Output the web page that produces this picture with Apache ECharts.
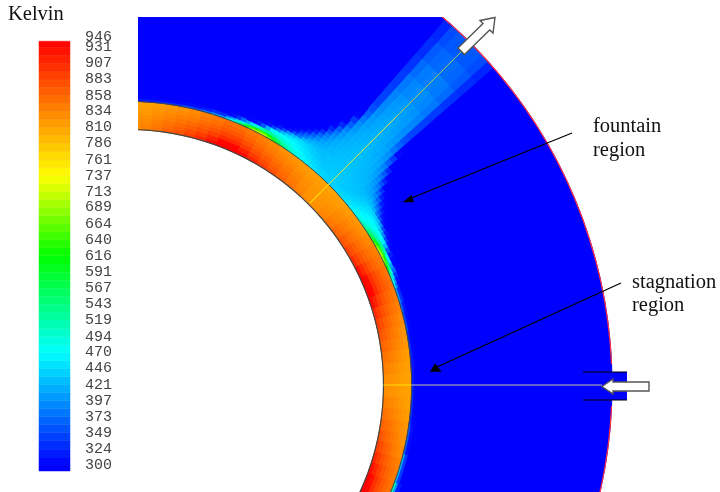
<!DOCTYPE html>
<html>
<head>
<meta charset="utf-8">
<style>
  html, body { margin: 0; padding: 0; background: #fff; }
  #chart { width: 720px; height: 492px; }
</style>
<script src="https://cdn.jsdelivr.net/npm/echarts@6/dist/echarts.min.js"></script>
</head>
<body>
<div id="chart"></div>
<script>
// colour bar labels (Kelvin)
const tickLabels = [300, 324, 349, 373, 397, 421, 446, 470, 494, 519, 543, 567, 591, 616, 640, 664, 689, 713, 737, 761, 786, 810, 834, 858, 883, 907, 931]
const topLabel = [946]
const barBottom = 291
const barTop = 940
const colorStops = [[300, [0, 0, 255]], [470, [0, 255, 255]], [616, [0, 255, 0]], [737, [255, 255, 0]], [940, [255, 0, 0]]]

// tube wall, temperature
const rSolid = [255.5, 259.5, 263.5, 267.5, 271.5, 275.5, 279.5, 283.7]
const thetaSolid = [-27.5, -25, -22.5, -20, -17.5, -15, -12.5, -10, -7.5, -5, -2.5, 0, 2.5, 5, 7.5, 10, 12.5, 15, 17.5, 20, 22.5, 25, 27.5, 30, 32.5, 35, 37.5, 40, 42.5, 45, 47.5, 50, 52.5, 55, 57.5, 60, 62.5, 65, 67.5, 70, 72.5, 75, 77.5, 80, 82.5, 85, 87.5, 90]
const solidTemps = [
  [932, 912, 890, 874, 862, 852, 844],
  [946, 935, 905, 885, 870, 860, 850],
  [946, 930, 902, 884, 870, 858, 850],
  [930, 910, 890, 874, 862, 852, 844],
  [908, 892, 876, 864, 853, 845, 838],
  [890, 878, 865, 855, 844, 836, 830],
  [875, 866, 856, 847, 838, 831, 824],
  [862, 855, 848, 840, 832, 826, 820],
  [850, 845, 838, 832, 826, 820, 816],
  [838, 834, 830, 825, 820, 816, 813],
  [828, 825, 822, 820, 816, 813, 811],
  [828, 825, 822, 820, 816, 813, 811],
  [838, 834, 830, 825, 820, 816, 813],
  [850, 845, 838, 832, 826, 820, 816],
  [862, 855, 848, 840, 832, 826, 820],
  [875, 866, 856, 847, 838, 831, 824],
  [890, 878, 865, 855, 844, 836, 830],
  [908, 892, 876, 864, 853, 845, 838],
  [932, 912, 890, 874, 862, 852, 844],
  [946, 935, 905, 885, 870, 860, 850],
  [946, 932, 902, 884, 870, 858, 850],
  [930, 910, 888, 872, 860, 850, 844],
  [905, 890, 874, 862, 852, 844, 838],
  [888, 876, 864, 854, 844, 836, 830],
  [872, 864, 855, 846, 838, 830, 824],
  [860, 853, 846, 838, 832, 825, 820],
  [848, 842, 836, 830, 826, 820, 816],
  [836, 832, 828, 824, 820, 816, 814],
  [826, 824, 822, 820, 818, 815, 812],
  [826, 824, 822, 820, 818, 815, 812],
  [838, 834, 830, 826, 822, 818, 814],
  [850, 845, 840, 834, 828, 822, 818],
  [864, 857, 850, 842, 834, 828, 822],
  [878, 868, 858, 849, 840, 833, 826],
  [894, 880, 868, 857, 846, 838, 832],
  [912, 895, 878, 866, 855, 846, 840],
  [935, 915, 892, 876, 864, 854, 846],
  [946, 938, 908, 888, 872, 862, 852],
  [946, 935, 905, 886, 872, 860, 852],
  [932, 912, 890, 874, 862, 852, 846],
  [908, 892, 876, 864, 853, 845, 838],
  [890, 878, 865, 855, 844, 836, 830],
  [875, 866, 856, 847, 838, 831, 824],
  [862, 855, 848, 840, 832, 826, 820],
  [848, 844, 838, 832, 826, 820, 816],
  [838, 834, 830, 825, 820, 816, 813],
  [828, 825, 822, 820, 816, 813, 811]
]

// air side, each row is one theta step, cells past the end of a row stay at 300
const rFluid = [283.7, 286, 288, 291, 295, 298, 301, 304, 307, 310, 314, 318, 322, 326, 330, 335, 340, 346, 352, 359, 366, 374, 382, 391, 400, 420, 440, 462, 484]
const thetaFluid = [-28, -20, -14, -8, 0, 6, 11, 15, 17, 20, 21, 22, 23, 24, 25, 26, 27, 28, 29, 30, 31, 32, 33, 34, 35, 36, 37, 38, 39, 40, 41, 42, 43, 44, 45, 46, 47, 48, 49, 50, 51, 52, 53, 54, 55, 56, 57, 58, 59, 60, 61, 62, 63, 64, 65, 66, 67, 68, 69, 70, 73, 75, 79, 84, 90]
const fluidTemps = [
  [520, 400, 320],
  [420, 340],
  [360, 310],
  [330, 303],
  [315],
  [330, 303],
  [350, 308],
  [370, 315],
  [400, 330],
  [450, 380, 302],
  [480, 410, 310],
  [520, 445, 335],
  [570, 490, 370],
  [620, 540, 410, 302],
  [665, 585, 450, 305],
  [695, 620, 490, 320],
  [710, 640, 520, 360, 302],
  [700, 635, 535, 420, 312],
  [670, 610, 530, 460, 345, 303],
  [630, 580, 520, 475, 390, 315],
  [590, 552, 508, 478, 425, 350, 302],
  [555, 530, 498, 475, 445, 400, 315, 301],
  [530, 512, 488, 472, 455, 425, 354, 312, 301],
  [510, 498, 480, 468, 458, 440, 380, 353, 320, 302],
  [495, 486, 472, 463, 455, 445, 420, 384, 359, 320, 301],
  [482, 475, 466, 458, 450, 444, 428, 412, 388, 362, 322, 301],
  [472, 467, 460, 453, 445, 440, 432, 422, 410, 392, 368, 332, 302],
  [465, 460, 454, 448, 440, 436, 430, 425, 415, 409, 396, 381, 354, 325, 302],
  [458, 454, 449, 442, 436, 432, 428, 425, 422, 416, 410, 403, 393, 380, 359, 327, 302],
  [452, 449, 445, 438, 432, 430, 429, 427, 425, 423, 420, 416, 410, 405, 398, 386, 363, 340, 306, 301],
  [448, 445, 442, 436, 433, 432, 431, 429, 427, 425, 423, 421, 420, 417, 413, 408, 401, 394, 380, 367, 352, 344, 343, 341, 338, 334, 329, 324],
  [445, 443, 441, 435, 435, 433, 432, 431, 429, 428, 426, 425, 423, 421, 420, 417, 414, 411, 406, 401, 396, 392, 390, 387, 380, 371, 360, 350],
  [442, 441, 440, 437, 436, 435, 434, 432, 431, 430, 429, 427, 426, 424, 423, 421, 418, 416, 413, 411, 408, 405, 402, 398, 390, 381, 368, 357],
  [440, 440, 440, 438, 436, 435, 434, 433, 432, 431, 430, 429, 428, 427, 426, 424, 422, 420, 418, 415, 412, 409, 406, 402, 394, 384, 371, 359],
  [440, 440, 440, 438, 436, 435, 434, 433, 432, 431, 430, 429, 428, 427, 426, 424, 422, 420, 418, 415, 412, 409, 406, 402, 394, 384, 371, 359],
  [442, 441, 440, 437, 436, 435, 434, 432, 431, 430, 429, 427, 426, 424, 423, 421, 418, 416, 413, 411, 408, 405, 402, 398, 390, 381, 368, 357],
  [445, 443, 441, 435, 435, 433, 432, 431, 429, 428, 426, 425, 423, 421, 420, 417, 414, 411, 406, 401, 396, 392, 390, 387, 380, 371, 360, 350],
  [448, 445, 442, 436, 433, 432, 431, 429, 427, 425, 423, 421, 420, 417, 413, 408, 401, 394, 380, 367, 352, 344, 343, 341, 338, 334, 329, 324],
  [452, 449, 445, 438, 432, 430, 429, 427, 425, 423, 420, 416, 410, 405, 398, 386, 363, 340, 306, 301],
  [458, 454, 449, 442, 436, 432, 428, 425, 422, 416, 410, 403, 393, 380, 359, 327, 302],
  [465, 460, 454, 448, 440, 436, 430, 425, 415, 409, 396, 381, 354, 325, 302],
  [472, 467, 460, 453, 445, 440, 432, 422, 410, 392, 368, 332, 302],
  [482, 475, 466, 458, 450, 444, 428, 412, 388, 362, 322, 301],
  [495, 486, 472, 463, 455, 445, 420, 384, 359, 320, 301],
  [510, 498, 480, 468, 458, 440, 380, 353, 320, 302],
  [530, 512, 488, 472, 455, 425, 354, 312, 301],
  [555, 530, 498, 475, 445, 400, 315, 301],
  [590, 552, 508, 478, 425, 350, 302],
  [630, 580, 520, 475, 390, 315],
  [670, 610, 530, 460, 345, 303],
  [700, 635, 535, 420, 312],
  [710, 640, 520, 360, 302],
  [695, 620, 490, 320],
  [665, 585, 450, 305],
  [620, 540, 410, 302],
  [570, 490, 370],
  [520, 445, 335],
  [480, 410, 310],
  [450, 380, 302],
  [400, 330],
  [370, 315],
  [350, 308],
  [330, 303],
  [315]
]

// 温度转颜色
function tempColor (v) {
  let i = 0
  while (i < colorStops.length - 2 && v > colorStops[i + 1][0]) i++
  const a = colorStops[i]
  const b = colorStops[i + 1]
  const t = Math.min(1, Math.max(0, (v - a[0]) / (b[0] - a[0])))
  const c = a[1].map((x, k) => Math.round(x + (b[1][k] - x) * t))
  return 'rgb(' + c.join(',') + ')'
}

// one row per cell: theta0, theta1, r0, r1, temp
// the free stream goes down first as one piece, so no seams show in it
const cells = [[thetaFluid[0], thetaFluid[thetaFluid.length - 1], rFluid[0], rFluid[rFluid.length - 1], 300]]
solidTemps.forEach((row, i) => {
  row.forEach((v, j) => cells.push([thetaSolid[i], thetaSolid[i + 1], rSolid[j], rSolid[j + 1], v]))
})
fluidTemps.forEach((row, i) => {
  row.forEach((v, j) => cells.push([thetaFluid[i], thetaFluid[i + 1], rFluid[j], rFluid[j + 1], v]))
})

// bar bands, two per label
const bands = []
tickLabels.forEach((v, i) => {
  const lo = i ? (tickLabels[i - 1] + v) / 2 : barBottom
  const hi = i < tickLabels.length - 1 ? (tickLabels[i + 1] + v) / 2 : barTop
  bands.push([lo, v], [v, hi])
})

function renderCell (params, api) {
  const t0 = api.value(0)
  const t1 = api.value(1)
  const r0 = api.value(2)
  const r1 = api.value(3)
  const n = Math.max(1, Math.ceil(t1 - t0))
  const pts = []
  for (let k = 0; k <= n; k++) pts.push(api.coord([r1, t0 + (t1 - t0) * k / n]))
  for (let k = n; k >= 0; k--) pts.push(api.coord([r0, t0 + (t1 - t0) * k / n]))
  const c = tempColor(api.value(4))
  return { type: 'polygon', shape: { points: pts }, style: { fill: c, stroke: c, lineWidth: 1 } }
}

function renderBand (params, api) {
  const a = api.coord([0, api.value(0)])
  const b = api.coord([1, api.value(1)])
  const c = tempColor((api.value(0) + api.value(1)) / 2)
  return {
    type: 'rect',
    shape: { x: a[0], y: b[1], width: b[0] - a[0], height: a[1] - b[1] },
    style: { fill: c, stroke: c, lineWidth: 0.5 }
  }
}

function wallLine (r, color, width, thetas) {
  return {
    type: 'line',
    coordinateSystem: 'polar',
    showSymbol: false,
    silent: true,
    z: 4,
    data: thetas.map(t => [r, t]),
    lineStyle: { color: color, width: width }
  }
}

function radialLine (theta, r0, r1, color, width) {
  return {
    type: 'line',
    coordinateSystem: 'polar',
    showSymbol: false,
    silent: true,
    z: 4,
    data: [[r0, theta], [r1, theta]],
    lineStyle: { color: color, width: width }
  }
}

function barAxis (labels) {
  return {
    type: 'value',
    position: 'right',
    min: barBottom,
    max: 957,
    splitLine: { show: false },
    axisLine: { show: false },
    axisTick: { show: false },
    axisLabel: {
      customValues: labels,
      showMinLabel: true,
      showMaxLabel: true,
      margin: 15,
      color: '#444',
      fontFamily: '"Liberation Mono", monospace',
      fontSize: 15
    }
  }
}

const serif = '"Liberation Serif", serif'
const blackArrow = (x1, y1, x2, y2, tip, p1, p2) => [
  { type: 'line', z: 12, shape: { x1: x1, y1: y1, x2: x2, y2: y2 }, style: { stroke: '#000', lineWidth: 1.3 } },
  { type: 'polygon', z: 12, shape: { points: [tip, p1, p2] }, style: { fill: '#000' } }
]
const label = (x, y, text) => ({
  type: 'text', z: 12, x: x, y: y,
  style: { text: text, font: '20.5px ' + serif, fill: '#111', textVerticalAlign: 'middle' }
})

const option = {
  animation: false,
  backgroundColor: '#fff',
  polar: { center: [128, 385], radius: 500 },
  radiusAxis: { min: 0, max: 500, show: false },
  angleAxis: { type: 'value', min: -180, max: 180, startAngle: 180, clockwise: false, show: false },
  grid: { left: 39, top: 30, width: 31, height: 441 },
  xAxis: { type: 'value', min: 0, max: 1, show: false },
  // 946 overlaps 931, so it gets an axis of its own or the library drops one of them
  yAxis: [barAxis(tickLabels), barAxis(topLabel)],
  series: [
    {
      type: 'custom',
      coordinateSystem: 'polar',
      renderItem: renderCell,
      data: cells,
      silent: true,
      z: 2,
      encode: { radius: 2, angle: 0 }
    },
    {
      type: 'custom',
      coordinateSystem: 'cartesian2d',
      renderItem: renderBand,
      data: bands,
      silent: true,
      z: 2,
      encode: { y: [0, 1] }
    },
    wallLine(255.5, '#444', 1.2, thetaSolid),
    wallLine(283.7, '#444', 1, thetaSolid),
    wallLine(484, '#ff3040', 1.2, thetaSolid.filter(t => t >= 2.5)),
    wallLine(484, '#ff3040', 1.2, thetaSolid.filter(t => t <= -2.5)),
    radialLine(0, 255.5, 283.7, '#ffe000', 1.2),
    radialLine(0, 283.7, 474, '#c4c0a8', 1.2),
    radialLine(45, 257, 284, '#ffd800', 1.2),
    radialLine(45, 284, 380, '#e0e040', 1),
    radialLine(45, 380, 474, '#a0c860', 1)
  ],
  graphic: [
    // 裁掉视窗外的部分
    { type: 'rect', z: 5, shape: { x: 113, y: 0, width: 25, height: 492 }, style: { fill: '#fff' } },
    { type: 'rect', z: 5, shape: { x: 113, y: 0, width: 607, height: 17 }, style: { fill: '#fff' } },
    // inlet tab
    { type: 'rect', z: 6, shape: { x: 611, y: 372, width: 16, height: 28 }, style: { fill: '#0000ff' } },
    { type: 'line', z: 7, shape: { x1: 583, y1: 372, x2: 627, y2: 372 }, style: { stroke: '#000', lineWidth: 1 } },
    { type: 'line', z: 7, shape: { x1: 583, y1: 400, x2: 627, y2: 400 }, style: { stroke: '#000', lineWidth: 1 } },
    // jet arrows
    {
      type: 'polygon', z: 8,
      shape: { points: [[602, 386.5], [613, 379], [613, 382], [649, 382], [649, 391], [613, 391], [613, 394]] },
      style: { fill: '#fff', stroke: '#555', lineWidth: 1.4 }
    },
    {
      type: 'polygon', z: 8,
      shape: { points: [[458, 48], [483, 23.5], [480, 20.5], [495, 17.5], [493, 33], [489.7, 30], [464.5, 54.5]] },
      style: { fill: '#fff', stroke: '#555', lineWidth: 1.4 }
    },
    ...blackArrow(572, 133, 409, 199, [402.7, 202.3], [411.7, 195], [414, 202.3]),
    ...blackArrow(621, 283, 437, 367, [430, 371.7], [435, 363.3], [441.7, 371.7]),
    label(8, 15, 'Kelvin'),
    label(593, 127, 'fountain'),
    label(593, 151, 'region'),
    label(632, 283, 'stagnation'),
    label(632, 306, 'region')
  ]
}

const myChart = echarts.init(document.getElementById('chart'))
myChart.setOption(option)
</script>
</body>
</html>
